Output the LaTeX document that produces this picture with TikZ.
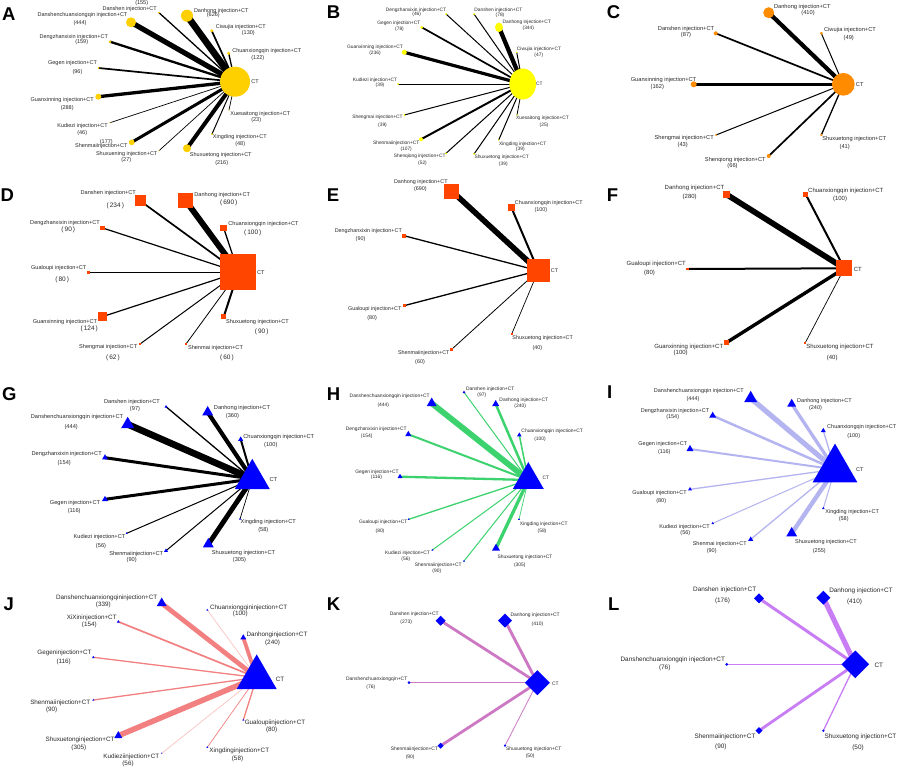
\documentclass[tikz,border=0pt]{standalone}
\usepackage{fontspec}
\setmainfont{Liberation Sans}
\usetikzlibrary{shapes.geometric,backgrounds}
\definecolor{cGold}{RGB}{255,208,0}
\definecolor{cYel}{RGB}{255,255,0}
\definecolor{cOra}{RGB}{255,140,0}
\definecolor{cOR}{RGB}{255,69,0}
\definecolor{cBlue}{RGB}{0,0,255}
\definecolor{eGreen}{RGB}{60,210,110}
\definecolor{eLav}{RGB}{180,180,240}
\definecolor{eCoral}{RGB}{242,128,128}
\definecolor{eCoralL}{RGB}{250,195,195}
\definecolor{eOrch}{RGB}{205,120,195}
\definecolor{eViol}{RGB}{200,125,245}
\definecolor{labc}{RGB}{40,40,40}
\colorlet{ncol}{black}\colorlet{ecol}{black}
\tikzset{
 lab/.style={inner sep=0pt,text=labc,font=\fontsize{5.5}{6}\selectfont},
 labn/.style={lab},
 letter/.style={anchor=base west,inner sep=0pt,font=\fontsize{18.5}{18}\selectfont\bfseries},
 circ/.style={circle,inner sep=0pt,outer sep=0pt,minimum size=#1,fill=ncol},
 sq/.style={rectangle,inner sep=0pt,outer sep=0pt,minimum size=#1,fill=ncol},
 tri/.style={regular polygon,regular polygon sides=3,inner sep=0pt,outer sep=0pt,minimum size={1.1547*#1},fill=ncol},
 dia/.style={diamond,inner sep=0pt,outer sep=0pt,minimum size=#1,fill=ncol},
 ed/.style={line width=#1,draw=ecol},
}
\begin{document}
\begin{tikzpicture}[x=1pt,y=-1pt]
\useasboundingbox (0,0) rectangle (899,769);
\begin{pgfonlayer}{background}
\fill[white] (0,0) rectangle (899,769);
\end{pgfonlayer}
% letters
\node[letter] (letA) at (2,20) {A};
\node[letter] (letB) at (326.7,18.3) {B};
\node[letter] (letC) at (606.7,18.3) {C};
\node[letter] (letD) at (0.5,201.7) {D};
\node[letter] (letE) at (326.7,201.7) {E};
\node[letter] (letF) at (606.7,201.7) {F};
\node[letter] (letG) at (2,400) {G};
\node[letter] (letH) at (326.7,400) {H};
\node[letter] (letI) at (607,398) {I};
\node[letter] (letJ) at (3.3,610) {J};
\node[letter] (letK) at (326.7,610) {K};
\node[letter] (letL) at (608,610) {L};

% ================= A =================
\begin{scope}[lab/.style={inner sep=0pt,text=labc,font=\fontsize{5.5}{6}\selectfont}]
\colorlet{ncol}{cGold}\colorlet{ecol}{black}
\node[circ=30] (aCT) at (235,81.7) {};
\node[circ=2] (aDs) at (159,12.7) {};
\node[circ=10] (aDc) at (131,22.3) {};
\node[circ=12] (aDh) at (187,15.7) {};
\node[circ=3.3] (aCw) at (211.7,30.7) {};
\node[circ=3.3] (aCx) at (228.7,53.3) {};
\node[circ=2.7] (aDz) at (110,41.7) {};
\node[circ=2] (aGg) at (98.7,68) {};
\node[circ=6] (aGx) at (98.3,96.7) {};
\node[circ=1.4] (aKd) at (110,122.7) {};
\node[circ=5.7] (aSm) at (131.7,142.3) {};
\node[circ=1.4] (aSn) at (159,150.7) {};
\node[circ=8] (aSt) at (187,148.3) {};
\node[circ=2] (aXd) at (212,134) {};
\node[circ=1.4] (aXs) at (229,110) {};
\begin{pgfonlayer}{background}
\draw[ed=6.7] (aCT.center) -- (aDh.center);
\draw[ed=5.2] (aCT.center) -- (aDc.center);
\draw[ed=3.3] (aCT.center) -- (aGx.center);
\draw[ed=4] (aCT.center) -- (aSt.center);
\draw[ed=3] (aCT.center) -- (aSm.center);
\draw[ed=2.3] (aCT.center) -- (aDz.center);
\draw[ed=1.7] (aCT.center) -- (aGg.center);
\draw[ed=1.7] (aCT.center) -- (aCw.center);
\draw[ed=1.3] (aCT.center) -- (aCx.center);
\draw[ed=1.3] (aCT.center) -- (aDs.center);
\draw[ed=0.7] (aCT.center) -- (aKd.center);
\draw[ed=0.7] (aCT.center) -- (aSn.center);
\draw[ed=1] (aCT.center) -- (aXd.center);
\draw[ed=0.7] (aCT.center) -- (aXs.center);
\end{pgfonlayer}
\node[lab] (aCTt) at (255,81.7) {CT};
\node[lab] (aDsn) at (141.7,2.7) {(155)};
\node[lab] (aDst) at (129.7,9.3) {Danshen injection+CT};
\node[lab] (aDct) at (82.5,15) {Danshenchuanxiongqin injection+CT};
\node[lab] (aDcn) at (80,23.3) {(444)};
\node[lab] (aDht) at (221.3,10.7) {Danhong injection+CT};
\node[lab] (aDhn) at (213.3,15) {(626)};
\node[lab] (aCwt) at (240.8,27.3) {Ciwujia injection+CT};
\node[lab] (aCwn) at (248.3,33.3) {(130)};
\node[lab] (aCxt) at (266.8,50.7) {Chuanxiongqin injection+CT};
\node[lab] (aCxn) at (257.8,58.3) {(122)};
\node[lab] (aDzt) at (73.8,37.3) {Dengzhanxixin injection+CT};
\node[lab] (aDzn) at (81.7,42.3) {(159)};
\node[lab] (aGgt) at (72.5,63.3) {Gegen injection+CT};
\node[lab] (aGgn) at (77.5,71.7) {(96)};
\node[lab] (aGxt) at (62.2,100) {Guanxinning injection+CT};
\node[lab] (aGxn) at (67.2,108.3) {(288)};
\node[lab] (aKdt) at (82.5,126) {Kudiezi injection+CT};
\node[lab] (aKdn) at (82.2,133.3) {(46)};
\node[lab] (aSmn) at (106.3,141.7) {(177)};
\node[lab] (aSmt) at (101.3,146) {Shenmaiinjection+CT};
\node[lab] (aSnt) at (126.7,154) {Shuxuening injection+CT};
\node[lab] (aSnn) at (126.3,160) {(27)};
\node[lab] (aStt) at (220.8,155) {Shuxuetong injection+CT};
\node[lab] (aStn) at (221.7,163.3) {(216)};
\node[lab] (aXdt) at (239.8,137.3) {Xingding injection+CT};
\node[lab] (aXdn) at (240.2,144) {(48)};
\node[lab] (aXst) at (260.3,114.3) {Xuesaitong injection+CT};
\node[lab] (aXsn) at (256.2,120) {(23)};
\end{scope}

% ================= B =================
\begin{scope}[lab/.style={inner sep=0pt,text=labc,font=\fontsize{4.85}{5}\selectfont}]
\colorlet{ncol}{cYel}\colorlet{ecol}{black}
\node[ellipse,inner sep=0pt,minimum width=26.7,minimum height=31,fill=cYel] (bCT) at (522.7,84) {};
\node[circ=2] (bDz) at (446,14) {};
\node[circ=2] (bDs) at (474,14) {};
\node[circ=3] (bGg) at (421.7,27.3) {};
\node[ellipse,inner sep=0pt,minimum width=8,minimum height=9.5,fill=cYel] (bDh) at (499,27.3) {};
\node[circ=5] (bGx) at (404.3,52.3) {};
\node[circ=1.5] (bCw) at (516.7,52.3) {};
\node[circ=2] (bKd) at (398,84) {};
\node[circ=2] (bSg) at (404.3,115) {};
\node[circ=1.5] (bXs) at (517,115) {};
\node[circ=4] (bSm) at (421,139.3) {};
\node[circ=1.5] (bXd) at (498.7,140) {};
\node[circ=2] (bSq) at (446,153.3) {};
\node[circ=2] (bSt) at (474,154) {};
\begin{pgfonlayer}{background}
\draw[ed=4.3] (bCT.center) -- (bDh.center);
\draw[ed=3.2] (bCT.center) -- (bGx.center);
\draw[ed=2] (bCT.center) -- (bSm.center);
\draw[ed=1.7] (bCT.center) -- (bGg.center);
\draw[ed=1] (bCT.center) -- (bKd.center);
\draw[ed=1] (bCT.center) -- (bSg.center);
\draw[ed=1] (bCT.center) -- (bDz.center);
\draw[ed=1] (bCT.center) -- (bDs.center);
\draw[ed=1] (bCT.center) -- (bCw.center);
\draw[ed=0.8] (bCT.center) -- (bXs.center);
\draw[ed=1] (bCT.center) -- (bXd.center);
\draw[ed=1] (bCT.center) -- (bSq.center);
\draw[ed=1] (bCT.center) -- (bSt.center);
\end{pgfonlayer}
\node[lab] (bCTt) at (539.3,84) {CT};
\node[lab] (bDzt) at (416,10) {Dengzhanxixin injection+CT};
\node[lab] (bDzn) at (416.7,14) {(46)};
\node[lab] (bDst) at (498.3,10.7) {Danshen injection+CT};
\node[lab] (bDsn) at (500,15) {(78)};
\node[lab] (bGgt) at (398.8,23.3) {Gegen injection+CT};
\node[lab] (bGgn) at (399.5,29) {(78)};
\node[lab] (bDht) at (526.7,22.7) {Danhong injection+CT};
\node[lab] (bDhn) at (528.3,28.7) {(344)};
\node[lab] (bGxt) at (375,47.7) {Guanxinning injection+CT};
\node[lab] (bGxn) at (375,53.3) {(236)};
\node[lab] (bCwt) at (539,49.3) {Ciwujia injection+CT};
\node[lab] (bCwn) at (538.8,55) {(47)};
\node[lab] (bKdt) at (375,80) {Kudiezi injection+CT};
\node[lab] (bKdn) at (380,85.7) {(39)};
\node[lab] (bSgt) at (377.5,117.7) {Shengmai injection+CT};
\node[lab] (bSgn) at (382.5,125.7) {(39)};
\node[lab] (bXst) at (542.5,118.3) {Xuesaitong injection+CT};
\node[lab] (bXsn) at (544,125) {(25)};
\node[lab] (bSmt) at (396.2,143.3) {Shenmaiinjection+CT};
\node[lab] (bSmn) at (406.2,149) {(107)};
\node[lab] (bXdt) at (522.7,144) {Xingding injection+CT};
\node[lab] (bXdn) at (520.3,149.3) {(39)};
\node[lab] (bSqt) at (419.7,156.7) {Shenqiong injection+CT};
\node[lab] (bSqn) at (422.5,163.3) {(52)};
\node[lab] (bStt) at (501.7,157.3) {Shuxuetong injection+CT};
\node[lab] (bStn) at (503.3,164) {(39)};
\end{scope}

% ================= C =================
\begin{scope}[lab/.style={inner sep=0pt,text=labc,font=\fontsize{5.7}{6}\selectfont}]
\colorlet{ncol}{cOra}\colorlet{ecol}{black}
\node[circ=22.7] (cCT) at (843.3,84.3) {};
\node[circ=11] (cDh) at (768.7,12.7) {};
\node[circ=4] (cDs) at (715.7,33.3) {};
\node[circ=3] (cCw) at (821.3,33.3) {};
\node[circ=6] (cGx) at (693.7,84.3) {};
\node[circ=2] (cSg) at (716,135) {};
\node[circ=2.5] (cSt) at (821.3,135) {};
\node[circ=4] (cSq) at (768.7,156) {};
\begin{pgfonlayer}{background}
\draw[ed=4.2] (cCT.center) -- (cDh.center);
\draw[ed=3.3] (cCT.center) -- (cGx.center);
\draw[ed=1.7] (cCT.center) -- (cDs.center);
\draw[ed=1.7] (cCT.center) -- (cSq.center);
\draw[ed=1] (cCT.center) -- (cCw.center);
\draw[ed=1] (cCT.center) -- (cSg.center);
\draw[ed=1.3] (cCT.center) -- (cSt.center);
\end{pgfonlayer}
\node[lab] (cCTt) at (859.7,85) {CT};
\node[lab] (cDht) at (802.3,7.3) {Danhong injection+CT};
\node[lab] (cDhn) at (808,13.3) {(410)};
\node[lab] (cDst) at (686,29) {Danshen injection+CT};
\node[lab] (cDsn) at (686,35) {(87)};
\node[lab] (cCwt) at (850,30) {Ciwujia injection+CT};
\node[lab] (cCwn) at (848.8,37.7) {(49)};
\node[lab] (cGxt) at (663.5,80) {Guanxinning injection+CT};
\node[lab] (cGxn) at (657.3,87.3) {(162)};
\node[lab] (cSgt) at (684.2,138.3) {Shengmai injection+CT};
\node[lab] (cSgn) at (682.7,145) {(43)};
\node[lab] (cStt) at (854.2,139) {Shuxuetong injection+CT};
\node[lab] (cStn) at (844.7,146.7) {(41)};
\node[lab] (cSqt) at (735.3,160) {Shenqiong injection+CT};
\node[lab] (cSqn) at (732.5,166) {(66)};
\end{scope}

% ================= D =================
\begin{scope}[lab/.style={inner sep=0pt,text=labc,font=\fontsize{5.6}{6}\selectfont},
  labn/.style={inner sep=0pt,text=labc,font=\fontsize{6.5}{7}\selectfont}]
\colorlet{ncol}{cOR}\colorlet{ecol}{black}
\node[sq=36] (dCT) at (238.3,272.3) {};
\node[sq=11] (dDs) at (140,200.7) {};
\node[sq=15] (dDh) at (185.7,200.7) {};
\node[sq=4.5] (dDz) at (102.7,228) {};
\node[sq=6.5] (dCx) at (223.7,228) {};
\node[sq=2.5] (dGl) at (88.3,272.3) {};
\node[sq=9] (dGx) at (102.3,316.7) {};
\node[sq=4.5] (dSt) at (223.7,316.7) {};
\node[sq=2.5] (dSg) at (140,344) {};
\node[sq=2.5] (dSm) at (186,344) {};
\begin{pgfonlayer}{background}
\draw[ed=5.9] (dCT.center) -- (dDh.center);
\draw[ed=1.7] (dCT.center) -- (dDs.center);
\draw[ed=1.2] (dCT.center) -- (dDz.center);
\draw[ed=1.3] (dCT.center) -- (dCx.center);
\draw[ed=1] (dCT.center) -- (dGl.center);
\draw[ed=1.2] (dCT.center) -- (dGx.center);
\draw[ed=2] (dCT.center) -- (dSt.center);
\draw[ed=1] (dCT.center) -- (dSg.center);
\draw[ed=0.8] (dCT.center) -- (dSm.center);
\end{pgfonlayer}
\node[lab] (dCTt) at (260.8,272.3) {CT};
\node[lab] (dDst) at (108.3,193.3) {Danshen injection+CT};
\node[labn] (dDsn) at (115.3,205.7) {(\,234\,)};
\node[lab] (dDht) at (222.2,195) {Danhong injection+CT};
\node[labn] (dDhn) at (228.7,203.3) {(\,690\,)};
\node[lab] (dDzt) at (65,223.3) {Dengzhanxixin injection+CT};
\node[labn] (dDzn) at (68.3,230) {(\,90\,)};
\node[lab] (dCxt) at (263.5,224) {Chuanxiongqin injection+CT};
\node[labn] (dCxn) at (252.7,233.3) {(\,100\,)};
\node[lab] (dGlt) at (58.7,268.3) {Gualoupi injection+CT};
\node[labn] (dGln) at (62.2,280) {(\,80\,)};
\node[lab] (dGxt) at (65,321.7) {Guanxinning injection+CT};
\node[labn] (dGxn) at (89.2,329.3) {(\,124\,)};
\node[lab] (dStt) at (257.5,321.7) {Shuxuetong injection+CT};
\node[labn] (dStn) at (261.7,331.7) {(\,90\,)};
\node[lab] (dSgt) at (108.2,346.7) {Shengmai injection+CT};
\node[labn] (dSgn) at (113,358.3) {(\,62\,)};
\node[lab] (dSmt) at (215.5,348.3) {Shenmai injection+CT};
\node[labn] (dSmn) at (227,358.3) {(\,60\,)};
\end{scope}

% ================= E =================
\begin{scope}[lab/.style={inner sep=0pt,text=labc,font=\fontsize{5.4}{6}\selectfont}]
\colorlet{ncol}{cOR}\colorlet{ecol}{black}
\node[sq=23.3] (eCT) at (538.3,270.7) {};
\node[sq=15] (eDh) at (451.7,191) {};
\node[sq=6.5] (eCx) at (511.3,207.3) {};
\node[sq=4] (eDz) at (404,235.7) {};
\node[sq=3] (eGl) at (404,305.7) {};
\node[sq=2] (eSt) at (511.7,334) {};
\node[sq=2.5] (eSm) at (451.7,349.3) {};
\begin{pgfonlayer}{background}
\draw[ed=5.6] (eCT.center) -- (eDh.center);
\draw[ed=2] (eCT.center) -- (eCx.center);
\draw[ed=1.3] (eCT.center) -- (eDz.center);
\draw[ed=1.3] (eCT.center) -- (eGl.center);
\draw[ed=0.8] (eCT.center) -- (eSm.center);
\draw[ed=0.7] (eCT.center) -- (eSt.center);
\end{pgfonlayer}
\node[lab] (eCTt) at (554.5,270.7) {CT};
\node[lab] (eDht) at (420.8,181.7) {Danhong injection+CT};
\node[lab] (eDhn) at (420.3,188.7) {(690)};
\node[lab] (eCxt) at (548.8,203.3) {Chuanxiongqin injection+CT};
\node[lab] (eCxn) at (540.8,210) {(100)};
\node[lab] (eDzt) at (368.3,230.7) {Dengzhanxixin injection+CT};
\node[lab] (eDzn) at (360.5,239) {(90)};
\node[lab] (eGlt) at (374.7,309.3) {Gualoupi injection+CT};
\node[lab] (eGln) at (372.2,318.3) {(80)};
\node[lab] (eStt) at (542.7,338.3) {Shuxuetong injection+CT};
\node[lab] (eStn) at (537.3,348.3) {(40)};
\node[lab] (eSmt) at (423.8,353.3) {Shenmaiinjection+CT};
\node[lab] (eSmn) at (420,362.3) {(60)};
\end{scope}

% ================= F =================
\begin{scope}[lab/.style={inner sep=0pt,text=labc,font=\fontsize{6}{6.5}\selectfont}]
\colorlet{ncol}{cOR}\colorlet{ecol}{black}
\node[sq=15.7] (fCT) at (844.3,268.3) {};
\node[sq=7] (fDh) at (726.3,194.3) {};
\node[sq=4.5] (fCx) at (805.7,194.3) {};
\node[sq=2.5] (fGl) at (687.3,269) {};
\node[sq=5.5] (fGx) at (726.3,342.7) {};
\node[sq=2] (fSt) at (805.3,342.7) {};
\begin{pgfonlayer}{background}
\draw[ed=5.7] (fCT.center) -- (fDh.center);
\draw[ed=3.4] (fCT.center) -- (fGx.center);
\draw[ed=2] (fCT.center) -- (fCx.center);
\draw[ed=2] (fCT.center) -- (fGl.center);
\draw[ed=0.7] (fCT.center) -- (fSt.center);
\end{pgfonlayer}
\node[lab] (fCTt) at (857.8,269) {CT};
\node[lab] (fDht) at (694.5,187.7) {Danhong injection+CT};
\node[lab] (fDhn) at (689.7,196.7) {(280)};
\node[lab] (fCxt) at (845.8,190.7) {Chuanxiongqin injection+CT};
\node[lab] (fCxn) at (840,199.3) {(100)};
\node[lab] (fGlt) at (656.3,264) {Gualoupi injection+CT};
\node[lab] (fGln) at (649.5,272.7) {(80)};
\node[lab] (fGxt) at (688.8,346.7) {Guanxinning injection+CT};
\node[lab] (fGxn) at (680.7,353.3) {(100)};
\node[lab] (fStt) at (840,347.3) {Shuxuetong injection+CT};
\node[lab] (fStn) at (832.2,357.7) {(40)};
\end{scope}

% ================= G =================
\begin{scope}[lab/.style={inner sep=0pt,text=labc,font=\fontsize{5.65}{6}\selectfont}]
\colorlet{ncol}{cBlue}\colorlet{ecol}{black}
\node[tri=35] (gCT) at (252.3,479) {};
\node[tri=3] (gDs) at (166,406.7) {};
\node[tri=11] (gDh) at (207.7,412.3) {};
\node[tri=13] (gDc) at (127.7,424.3) {};
\node[tri=5] (gCx) at (240.7,439.3) {};
\node[tri=6] (gDz) at (105,457.7) {};
\node[tri=6] (gGg) at (105,499.3) {};
\node[tri=2] (gXd) at (240,519) {};
\node[tri=2] (gKd) at (126.7,533.3) {};
\node[tri=4] (gSm) at (166,550.7) {};
\node[tri=11] (gSt) at (208.3,544.3) {};
\begin{pgfonlayer}{background}
\draw[ed=6.7] (gCT.center) -- (gDc.center);
\draw[ed=4.2] (gCT.center) -- (gDh.center);
\draw[ed=4.9] (gCT.center) -- (gSt.center);
\draw[ed=3] (gCT.center) -- (gDz.center);
\draw[ed=3] (gCT.center) -- (gGg.center);
\draw[ed=2] (gCT.center) -- (gCx.center);
\draw[ed=1.3] (gCT.center) -- (gDs.center);
\draw[ed=1] (gCT.center) -- (gKd.center);
\draw[ed=1] (gCT.center) -- (gSm.center);
\draw[ed=0.7] (gCT.center) -- (gXd.center);
\end{pgfonlayer}
\node[lab] (gCTt) at (273.3,480) {CT};
\node[lab] (gDst) at (132,401.7) {Danshen injection+CT};
\node[lab] (gDsn) at (135,409) {(97)};
\node[lab] (gDht) at (242,408.3) {Danhong injection+CT};
\node[lab] (gDhn) at (232.5,416) {(360)};
\node[lab] (gDct) at (77,417) {Danshenchuanxiongqin injection+CT};
\node[lab] (gDcn) at (71.2,427.3) {(444)};
\node[lab] (gCxt) at (278.8,436.7) {Chuanxiongqin injection+CT};
\node[lab] (gCxn) at (270.8,445.3) {(100)};
\node[lab] (gDzt) at (66.7,453.7) {Dengzhanxixin injection+CT};
\node[lab] (gDzn) at (64.2,462.7) {(154)};
\node[lab] (gGgt) at (75,503.3) {Gegen injection+CT};
\node[lab] (gGgn) at (74.2,511) {(116)};
\node[lab] (gXdt) at (268.3,522.3) {Xingding injection+CT};
\node[lab] (gXdn) at (263.3,530) {(58)};
\node[lab] (gKdt) at (99.5,537.3) {Kudiezi injection+CT};
\node[lab] (gKdn) at (101,545.7) {(56)};
\node[lab] (gSmt) at (136.2,554.3) {Shenmaiinjection+CT};
\node[lab] (gSmn) at (131.7,559.7) {(90)};
\node[lab] (gStt) at (243.5,552.7) {Shuxuetong injection+CT};
\node[lab] (gStn) at (239.5,560.3) {(305)};
\end{scope}

% ================= H =================
\begin{scope}[lab/.style={inner sep=0pt,text=labc,font=\fontsize{4.9}{5}\selectfont}]
\colorlet{ncol}{cBlue}\colorlet{ecol}{eGreen}
\node[tri=31] (hCT) at (528.3,480) {};
\node[tri=10] (hDc) at (431.7,403.3) {};
\node[tri=3] (hDs) at (464,392.3) {};
\node[tri=7] (hDh) at (495.7,404) {};
\node[tri=6] (hDz) at (408.3,434.3) {};
\node[tri=4.5] (hCx) at (519.3,435) {};
\node[tri=5] (hGg) at (400,476.7) {};
\node[tri=2] (hGl) at (408.7,519.3) {};
\node[tri=2] (hXd) at (519,519.3) {};
\node[tri=2] (hKd) at (432.3,550) {};
\node[tri=2] (hSm) at (464,561) {};
\node[tri=8] (hSt) at (496,548.3) {};
\begin{pgfonlayer}{background}
\draw[ed=5.8] (hCT.center) -- (hDc.center);
\draw[ed=2.5] (hCT.center) -- (hDh.center);
\draw[ed=3.3] (hCT.center) -- (hSt.center);
\draw[ed=2] (hCT.center) -- (hDz.center);
\draw[ed=2.3] (hCT.center) -- (hGg.center);
\draw[ed=1.5] (hCT.center) -- (hCx.center);
\draw[ed=1] (hCT.center) -- (hDs.center);
\draw[ed=1.3] (hCT.center) -- (hGl.center);
\draw[ed=1] (hCT.center) -- (hKd.center);
\draw[ed=1] (hCT.center) -- (hSm.center);
\draw[ed=0.7] (hCT.center) -- (hXd.center);
\end{pgfonlayer}
\node[lab] (hCTt) at (545.8,477.7) {CT};
\node[lab] (hDct) at (389.7,396.7) {Danshenchuanxiongqin injection+CT};
\node[lab] (hDcn) at (383.3,405) {(444)};
\node[lab] (hDst) at (490.2,389) {Danshen injection+CT};
\node[lab] (hDsn) at (481.8,395) {(97)};
\node[lab] (hDht) at (523.8,400) {Danhong injection+CT};
\node[lab] (hDhn) at (520.2,406) {(240)};
\node[lab] (hDzt) at (376.3,429) {Dengzhanxixin injection+CT};
\node[lab] (hDzn) at (366.7,436.7) {(154)};
\node[lab] (hCxt) at (552.2,431) {Chuanxiongqin injection+CT};
\node[lab] (hCxn) at (540,439.3) {(100)};
\node[lab] (hGgt) at (377,472.3) {Gegen injection+CT};
\node[lab] (hGgn) at (376.5,477.7) {(116)};
\node[lab] (hGlt) at (383.3,522.3) {Gualoupi injection+CT};
\node[lab] (hGln) at (380,531.7) {(80)};
\node[lab] (hXdt) at (543.8,524) {Xingding injection+CT};
\node[lab] (hXdn) at (542,531.7) {(58)};
\node[lab] (hKdt) at (407.5,553.3) {Kudiezi injection+CT};
\node[lab] (hKdn) at (405.8,559) {(56)};
\node[lab] (hSmt) at (438.3,565) {Shenmaiinjection+CT};
\node[lab] (hSmn) at (436.8,571) {(90)};
\node[lab] (hStt) at (525,557.7) {Shuxuetong injection+CT};
\node[lab] (hStn) at (519.8,565) {(305)};
\end{scope}

% ================= I =================
\begin{scope}[lab/.style={inner sep=0pt,text=labc,font=\fontsize{5.5}{6}\selectfont}]
\colorlet{ncol}{cBlue}\colorlet{ecol}{eLav}
\node[tri=44.7] (iCT) at (835,469.4) {};
\node[tri=13] (iDc) at (750.7,398.3) {};
\node[tri=9] (iDh) at (791.7,404) {};
\node[tri=7] (iDz) at (712.7,415.7) {};
\node[tri=5] (iCx) at (823.3,430.7) {};
\node[tri=7] (iGg) at (690,449) {};
\node[tri=4] (iGl) at (690,489.3) {};
\node[tri=2.5] (iXd) at (823.3,508.3) {};
\node[tri=2.5] (iKd) at (712.7,523.3) {};
\node[tri=5] (iSm) at (750.7,539.3) {};
\node[tri=11] (iSt) at (791.7,533.3) {};
\begin{pgfonlayer}{background}
\draw[ed=5.1] (iCT.center) -- (iDc.center);
\draw[ed=4.4] (iCT.center) -- (iSt.center);
\draw[ed=3.3] (iCT.center) -- (iDh.center);
\draw[ed=2.5] (iCT.center) -- (iDz.center);
\draw[ed=2] (iCT.center) -- (iGg.center);
\draw[ed=1.3] (iCT.center) -- (iGl.center);
\draw[ed=1.3] (iCT.center) -- (iCx.center);
\draw[ed=1.3] (iCT.center) -- (iSm.center);
\draw[ed=1] (iCT.center) -- (iKd.center);
\draw[ed=1] (iCT.center) -- (iXd.center);
\end{pgfonlayer}
\node[lab] (iCTt) at (859.7,470) {CT};
\node[lab] (iDct) at (698.8,391) {Danshenchuanxiongqin injection+CT};
\node[lab] (iDcn) at (693,399) {(444)};
\node[lab] (iDht) at (824.5,400.7) {Danhong injection+CT};
\node[lab] (iDhn) at (815.5,407.7) {(240)};
\node[lab] (iDzt) at (675,410.7) {Dengzhanxixin injection+CT};
\node[lab] (iDzn) at (672.7,417.3) {(154)};
\node[lab] (iCxt) at (861.7,427.3) {Chuanxiongqin injection+CT};
\node[lab] (iCxn) at (853.7,436) {(100)};
\node[lab] (iGgt) at (662.8,444.3) {Gegen injection+CT};
\node[lab] (iGgn) at (664.3,451.7) {(116)};
\node[lab] (iGlt) at (659.5,493.3) {Gualoupi injection+CT};
\node[lab] (iGln) at (661.2,500.7) {(80)};
\node[lab] (iXdt) at (852.2,512.3) {Xingding injection+CT};
\node[lab] (iXdn) at (843.7,519.3) {(58)};
\node[lab] (iKdt) at (684.5,526.7) {Kudiezi injection+CT};
\node[lab] (iKdn) at (685.3,533.3) {(56)};
\node[lab] (iSmt) at (719.8,544) {Shenmai injection+CT};
\node[lab] (iSmn) at (711.7,550.7) {(90)};
\node[lab] (iStt) at (826,541.7) {Shuxuetong injection+CT};
\node[lab] (iStn) at (819.3,550.7) {(255)};
\end{scope}

% ================= J =================
\begin{scope}[lab/.style={inner sep=0pt,text=labc,font=\fontsize{6.3}{7}\selectfont}]
\colorlet{ncol}{cBlue}\colorlet{ecol}{eCoral}
\node[tri=40] (jCT) at (256.7,677.5) {};
\node[tri=10] (jDc) at (161.7,603.3) {};
\node[tri=2] (jCx) at (207.3,610) {};
\node[tri=3] (jXx) at (118.3,621.7) {};
\node[tri=6] (jDh) at (243.3,637.7) {};
\node[tri=2.5] (jGg) at (93.3,657.3) {};
\node[tri=2] (jSm) at (93.3,700) {};
\node[tri=2] (jGl) at (243.3,720) {};
\node[tri=8] (jSt) at (118.3,735.7) {};
\node[tri=1.5] (jKd) at (161.7,753.3) {};
\node[tri=2] (jXd) at (207.3,747.3) {};
\begin{pgfonlayer}{background}
\draw[ed=4.7] (jCT.center) -- (jDc.center);
\draw[ed=5.5] (jCT.center) -- (jSt.center);
\draw[ed=3.8] (jCT.center) -- (jDh.center);
\draw[ed=1.7] (jCT.center) -- (jXx.center);
\draw[ed=1.3] (jCT.center) -- (jGg.center);
\draw[ed=1.3] (jCT.center) -- (jSm.center);
\draw[ed=1.3] (jCT.center) -- (jGl.center);
\draw[ed=0.7,draw=eCoralL] (jCT.center) -- (jCx.center);
\draw[ed=0.7,draw=eCoralL] (jCT.center) -- (jKd.center);
\draw[ed=0.7] (jCT.center) -- (jXd.center);
\end{pgfonlayer}
\node[lab] (jCTt) at (280,679) {CT};
\node[lab] (jDct) at (106.7,597.7) {Danshenchuanxiongqininjection+CT};
\node[lab] (jDcn) at (103.3,605) {(339)};
\node[lab] (jCxt) at (248.7,607.7) {Chuanxiongqininjection+CT};
\node[lab] (jCxn) at (240.3,614.3) {(100)};
\node[lab] (jXxt) at (91.7,617.7) {XiXininjection+CT};
\node[lab] (jXxn) at (89.3,625) {(154)};
\node[lab] (jDht) at (277,635) {Danhonginjection+CT};
\node[lab] (jDhn) at (272.5,642.7) {(240)};
\node[lab] (jGgt) at (64.5,653.3) {Gegeninjection+CT};
\node[lab] (jGgn) at (63.7,661.7) {(116)};
\node[lab] (jSmt) at (60.3,703.3) {Shenmaiinjection+CT};
\node[lab] (jSmn) at (51.7,710.3) {(90)};
\node[lab] (jGlt) at (275,723.3) {Gualoupiinjection+CT};
\node[lab] (jGln) at (271.7,730.3) {(80)};
\node[lab] (jStt) at (80,740) {Shuxuetonginjection+CT};
\node[lab] (jStn) at (78.8,748.3) {(305)};
\node[lab] (jKdt) at (131.3,756.7) {Kudieziinjection+CT};
\node[lab] (jKdn) at (128,764) {(56)};
\node[lab] (jXdt) at (239.3,750.7) {Xingdinginjection+CT};
\node[lab] (jXdn) at (237.5,759) {(58)};
\end{scope}

% ================= K =================
\begin{scope}[lab/.style={inner sep=0pt,text=labc,font=\fontsize{4.95}{5}\selectfont}]
\colorlet{ncol}{cBlue}\colorlet{ecol}{eOrch}
\node[dia=25] (kCT) at (537.3,682.7) {};
\node[dia=10] (kDs) at (440.7,620.7) {};
\node[dia=14] (kDh) at (505,620.7) {};
\node[dia=3] (kDc) at (409,682.7) {};
\node[dia=6] (kSm) at (440.7,745.7) {};
\node[dia=2.5] (kSt) at (505,745.7) {};
\begin{pgfonlayer}{background}
\draw[ed=2.8] (kCT.center) -- (kDs.center);
\draw[ed=2.9] (kCT.center) -- (kDh.center);
\draw[ed=2.8] (kCT.center) -- (kSm.center);
\draw[ed=1] (kCT.center) -- (kDc.center);
\draw[ed=0.8] (kCT.center) -- (kSt.center);
\end{pgfonlayer}
\node[lab] (kCTt) at (555.3,683.3) {CT};
\node[lab] (kDst) at (414.2,614) {Danshen injection+CT};
\node[lab] (kDsn) at (406.2,622.7) {(273)};
\node[lab] (kDht) at (535.2,615.7) {Danhong injection+CT};
\node[lab] (kDhn) at (537.5,624) {(410)};
\node[lab] (kDct) at (376.7,679) {Danshenchuanxiongqin+CT};
\node[lab] (kDcn) at (370.8,687.7) {(76)};
\node[lab] (kSmt) at (414.5,749) {Shenmaiinjection+CT};
\node[lab] (kSmn) at (410.2,757) {(90)};
\node[lab] (kStt) at (533.8,749) {Shuxuetong injection+CT};
\node[lab] (kStn) at (530.2,756.7) {(50)};
\end{scope}

% ================= L =================
\begin{scope}[lab/.style={inner sep=0pt,text=labc,font=\fontsize{6.4}{7}\selectfont}]
\colorlet{ncol}{cBlue}\colorlet{ecol}{eViol}
\node[dia=27.6] (lCT) at (855.3,664.3) {};
\node[dia=10] (lDs) at (759,598.3) {};
\node[dia=14] (lDh) at (823.3,597.7) {};
\node[dia=3] (lDc) at (726.7,664.3) {};
\node[dia=7] (lSm) at (759,730.7) {};
\node[dia=2.5] (lSt) at (823.3,730.7) {};
\begin{pgfonlayer}{background}
\draw[ed=5.1] (lCT.center) -- (lDh.center);
\draw[ed=3] (lCT.center) -- (lDs.center);
\draw[ed=2.8] (lCT.center) -- (lSm.center);
\draw[ed=1.3] (lCT.center) -- (lDc.center);
\draw[ed=1.3] (lCT.center) -- (lSt.center);
\end{pgfonlayer}
\node[lab] (lCTt) at (878.8,665) {CT};
\node[lab] (lDst) at (724.7,590) {Danshen injection+CT};
\node[lab] (lDsn) at (722.5,601) {(176)};
\node[lab] (lDht) at (861,591) {Danhong injection+CT};
\node[lab] (lDhn) at (854.5,601.7) {(410)};
\node[lab] (lDct) at (672.8,660) {Danshenchuanxiongqin injection+CT};
\node[lab] (lDcn) at (664.7,668.3) {(76)};
\node[lab] (lSmt) at (725,736.7) {Shenmaiinjection+CT};
\node[lab] (lSmn) at (720.8,746.7) {(90)};
\node[lab] (lStt) at (860.5,737.3) {Shuxuetong injection+CT};
\node[lab] (lStn) at (858,748.3) {(50)};
\end{scope}
\end{tikzpicture}
\end{document}
